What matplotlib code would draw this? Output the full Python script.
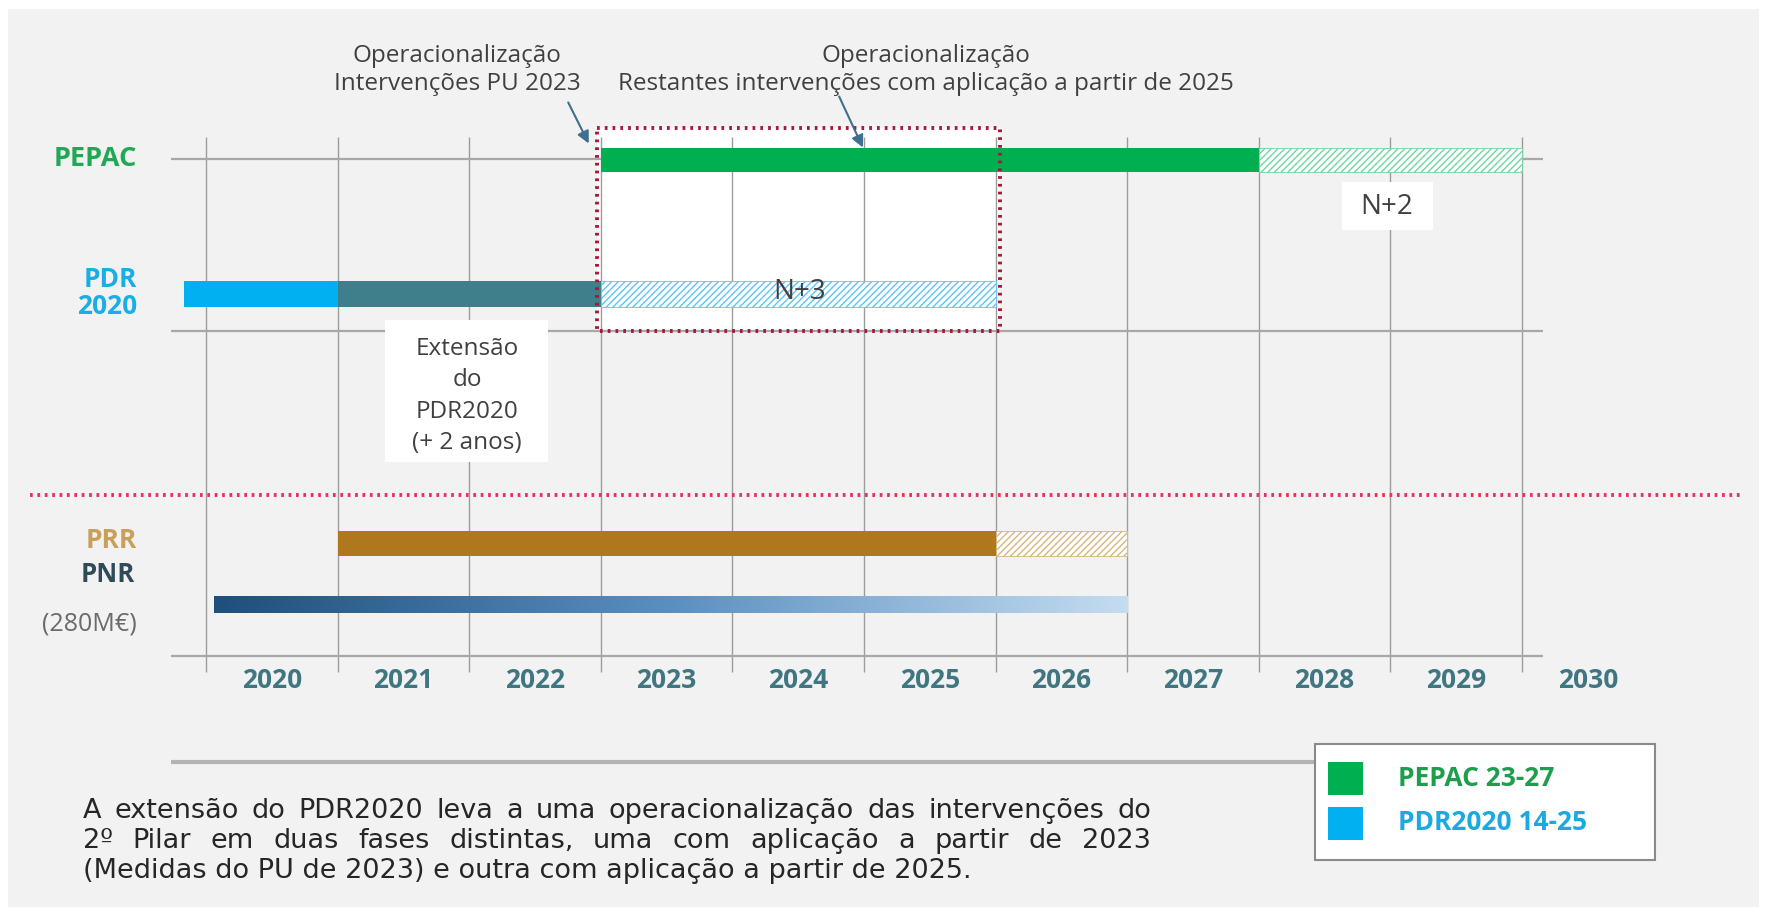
import numpy as np
import matplotlib.pyplot as plt
from matplotlib.patches import Rectangle
from matplotlib.colors import LinearSegmentedColormap

plt.rcParams['font.family'] = ['Open Sans', 'DejaVu Sans']
plt.rcParams['hatch.linewidth'] = 1.0

# canvas in pixels, x axis in years
W, H = 1766, 914
PPY = 131.6                 # pixels per year
X0 = 2020 - 206 / PPY


def xp(px):
    # pixel column -> year coordinate
    return X0 + px / PPY


# ---- data ----
years = list(range(2020, 2031))
year_labels = [str(y) for y in years]

pepac_start = [2023, 2028]
pepac_end = [2028, 2030]
pepac_hatched = [False, True]

pdr_start = [2019.83, 2021, 2023]
pdr_end = [2021, 2023, 2026]
pdr_hatched = [False, False, True]

prr_start = [2021, 2026]
prr_end = [2026, 2027]
prr_hatched = [False, True]

pnr_start = 2020.06
pnr_end = 2027

focus_start, focus_end = 2022.97, 2026.03   # janela tracejada a vermelho

legend_labels = ['PEPAC 23-27', 'PDR2020 14-25']

note_pu = 'Operacionalização\nIntervenções PU 2023'
note_rest = 'Operacionalização\nRestantes intervenções com aplicação a partir de 2025'
ext_label = 'Extensão\ndo\nPDR2020\n(+ 2 anos)'

para_lines = [
    'A extensão do PDR2020 leva a uma operacionalização das intervenções do',
    '2º Pilar em duas fases distintas, uma com aplicação a partir de 2023',
    '(Medidas do PU de 2023) e outra com aplicação a partir de 2025.',
]

# ---- cores ----
GREEN = '#00b050'
BLUE = '#00b0f0'
TEAL = '#3e7f8b'
BROWN = '#b0781c'
GRID = '#9c9c9c'
TXT = '#404040'

fig = plt.figure(figsize=(W / 100, H / 100), dpi=100)
fig.patch.set_facecolor('white')
ax = fig.add_axes([0, 0, 1, 1])
ax.set_xlim(X0, X0 + W / PPY)
ax.set_ylim(H, 0)
ax.axis('off')

# fundo cinzento
ax.add_patch(Rectangle((xp(8), 9), 1751 / PPY, 898, facecolor='#f2f2f2',
                       edgecolor='none', zorder=0))

# janela branca (2023-2025)
ax.add_patch(Rectangle((focus_start, 128), focus_end - focus_start, 203,
                       facecolor='white', edgecolor='none', zorder=1))

# grelha
ax.vlines(years, 137, 672, color=GRID, lw=1.0, zorder=2)
ax.hlines([159, 331, 656], xp(171), xp(1543), color='#a8a8a8', lw=1.6, zorder=2)


def draw_row(starts, ends, hatched, y, h, colors, hatch_col):
    for s, e, hat, c in zip(starts, ends, hatched, colors):
        if hat:
            ax.barh(y, e - s, left=s, height=h, color='white',
                    edgecolor=hatch_col, hatch='/////', linewidth=0.6, zorder=4)
        else:
            ax.barh(y, e - s, left=s, height=h, color=c, linewidth=0, zorder=4)


draw_row(pepac_start, pepac_end, pepac_hatched, 160, 24, [GREEN, None], '#6fd6a2')
draw_row(pdr_start, pdr_end, pdr_hatched, 293.5, 26, [BLUE, TEAL, None], '#5cc6ef')
draw_row(prr_start, prr_end, prr_hatched, 543.5, 25, [BROWN, None], '#d8b67c')

# PNR em degradé
cmap = LinearSegmentedColormap.from_list('pnr', ['#1f4f7c', '#5b8fc0', '#c4dcf0'])
ax.imshow(np.linspace(0, 1, 256).reshape(1, -1), cmap=cmap, aspect='auto',
          extent=[pnr_start, pnr_end, 613, 596], zorder=4, interpolation='bilinear')
ax.set_xlim(X0, X0 + W / PPY)
ax.set_ylim(H, 0)

# contorno vermelho da janela
ax.add_patch(Rectangle((focus_start, 128), focus_end - focus_start, 203,
                       fill=False, edgecolor='#a8163a', lw=2.8,
                       linestyle=(0, (0.7, 1.3)), zorder=6))

# separador
ax.hlines(495, xp(30), xp(1742), color='#e2345c', lw=2.8,
          linestyle=(0, (0.7, 1.2)), zorder=3)

# rótulos das linhas
lab = dict(ha='right', va='center', fontweight='bold', zorder=7)
ax.text(xp(137), 159, 'PEPAC', color='#1fa955', fontsize=19.5, **lab)
ax.text(xp(137), 293, 'PDR\n2020', color='#1aaee6', linespacing=1.0,
        fontsize=19, **lab)
ax.text(xp(137), 540, 'PRR', color='#c9a059', fontsize=19, **lab)
ax.text(xp(135), 575, 'PNR', color='#2f4a58', fontsize=18.5, **lab)
ax.text(xp(137), 624, '(280M€)', color='#6a6a6a', ha='right', va='center',
        fontsize=18)

# anos
for yr, lb in zip(years, year_labels):
    ax.text(yr + 0.5, 680, lb, ha='center', va='center', fontsize=19,
            fontweight='bold', color='#3f7682')

# anotações do topo
ax.text(xp(457), 70, note_pu, ha='center', va='center', fontsize=17.5,
        color=TXT, linespacing=1.25)
ax.text(xp(926), 70, note_rest, ha='center', va='center', fontsize=17.5,
        color=TXT, linespacing=1.25)
arrow = dict(arrowstyle='-|>', color='#3d6f8e', lw=1.5, mutation_scale=18)
ax.annotate('', xy=(xp(590), 146), xytext=(xp(567), 100), arrowprops=arrow, zorder=8)
ax.annotate('', xy=(xp(864), 150), xytext=(xp(838), 94), arrowprops=arrow, zorder=8)

# N+3 / N+2
ax.text(xp(800), 292, 'N+3', ha='center', va='center', fontsize=20, color=TXT, zorder=7)
ax.add_patch(Rectangle((xp(1342), 182), 91 / PPY, 48, facecolor='white',
                       edgecolor='none', zorder=5))
ax.text(xp(1387), 207, 'N+2', ha='center', va='center', fontsize=20, color=TXT, zorder=7)

# caixa Extensão
ax.add_patch(Rectangle((xp(385), 320), 163 / PPY, 142, facecolor='white',
                       edgecolor='none', zorder=5))
ax.text(xp(467), 396, ext_label, ha='center', va='center', fontsize=17.5,
        color=TXT, linespacing=1.42, zorder=7)

# linha cinzenta grossa
ax.hlines(762, xp(171), xp(1315), color='#b4b4b4', lw=3, zorder=2)

# legenda
ax.add_patch(Rectangle((xp(1315), 744), 340 / PPY, 116, facecolor='white',
                       edgecolor='#8a8a8a', lw=1.5, zorder=5))
for i, (lbl, c, tc) in enumerate(zip(legend_labels, [GREEN, BLUE], ['#1e9e4c', '#1ca8e0'])):
    y = 778 + i * 45
    ax.add_patch(Rectangle((xp(1328), y - 16.5), 35 / PPY, 33, facecolor=c,
                           edgecolor='none', zorder=6))
    ax.text(xp(1398), y, lbl, ha='left', va='center', fontsize=19,
            fontweight='bold', color=tc, zorder=7)

# parágrafo justificado
fig.canvas.draw()
r = fig.canvas.get_renderer()
para_left, para_right = 83, 1151
para_y = [811, 841, 871]
pkw = dict(va='center', ha='left', fontsize=19.5, color='#262626',
           family=['DejaVu Sans'])
for i, line in enumerate(para_lines):
    if i == len(para_lines) - 1:
        ax.text(xp(para_left), para_y[i], line, **pkw)
        continue
    words = line.split()
    ts = [ax.text(0, para_y[i], w, **pkw) for w in words]
    widths = [t.get_window_extent(r).width for t in ts]
    gap = max((para_right - para_left - sum(widths)) / (len(words) - 1), 4)
    x = para_left
    for t, w in zip(ts, widths):
        t.set_x(xp(x))
        x += w + gap

fig.savefig('out.png', dpi=100, facecolor='white')
